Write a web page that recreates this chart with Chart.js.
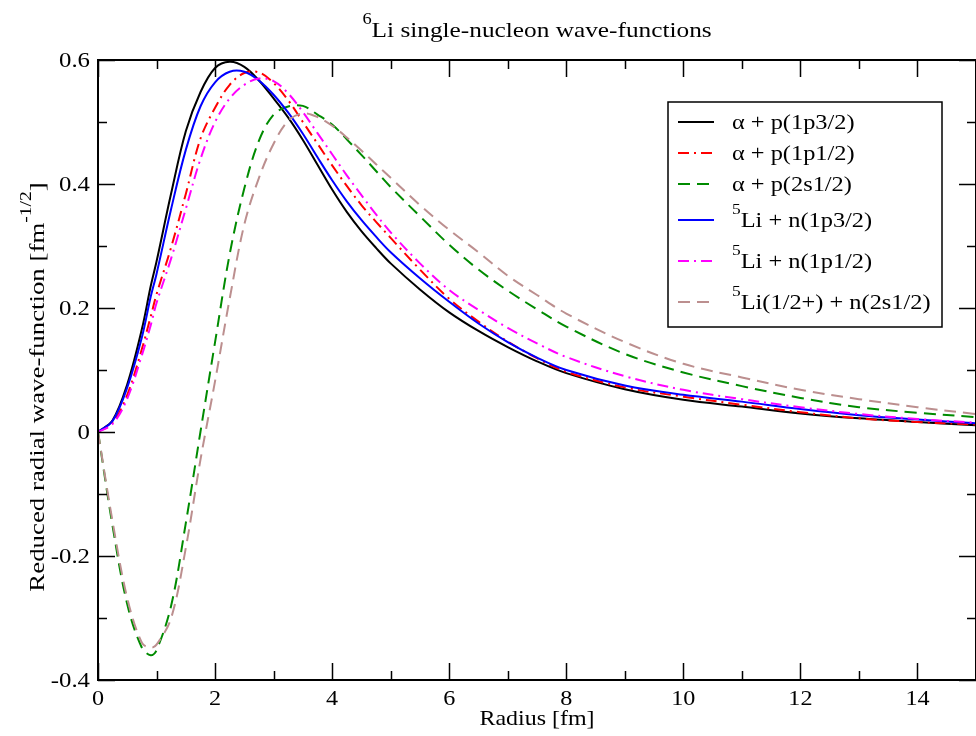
<!DOCTYPE html>
<html>
<head>
<meta charset="utf-8">
<title>6Li single-nucleon wave-functions</title>
<script src="https://cdn.jsdelivr.net/npm/chart.js@4.4.0/dist/chart.umd.min.js"></script>
<style>
    html, body { margin: 0; padding: 0; background: #fff; }
</style>
</head>
<body>
<canvas id="waveChart" width="976" height="736"></canvas>
<script>
// radius grid [fm]
const radius = [0, 0.25, 0.5, 0.75, 0.9, 1, 1.25, 1.5, 1.75, 2, 2.25, 2.5, 2.75, 3, 3.25, 3.5, 3.75, 4,
                4.25, 4.5, 4.75, 5, 5.5, 6, 6.5, 7, 7.5, 8, 9, 10, 11, 12, 13, 14, 15];

// reduced radial wave-functions
const alphaP_1p32 = [0, 0.019, 0.077, 0.166, 0.235, 0.275, 0.385, 0.485, 0.548, 0.587, 0.597, 0.589, 0.567, 0.538, 0.507, 0.471, 0.431, 0.391,
                     0.355, 0.324, 0.297, 0.272, 0.230, 0.193, 0.163, 0.137, 0.114, 0.095, 0.069, 0.052, 0.041, 0.030, 0.022, 0.016, 0.011];
const alphaP_1p12 = [0, 0.015, 0.060, 0.134, 0.186, 0.222, 0.298, 0.384, 0.473, 0.523, 0.560, 0.579, 0.580, 0.563, 0.535, 0.500, 0.465, 0.430,
                     0.397, 0.366, 0.339, 0.313, 0.262, 0.215, 0.178, 0.146, 0.119, 0.097, 0.072, 0.057, 0.044, 0.032, 0.022, 0.016, 0.012];
const alphaP_2s12 = [0, -0.152, -0.278, -0.348, -0.360, -0.352, -0.280, -0.147, 0.000, 0.145, 0.287, 0.393, 0.470, 0.512, 0.525, 0.526, 0.512, 0.496,
                     0.472, 0.447, 0.421, 0.395, 0.348, 0.302, 0.262, 0.228, 0.198, 0.170, 0.126, 0.096, 0.074, 0.055, 0.040, 0.031, 0.024];
const li5N_1p32    = [0, 0.018, 0.072, 0.153, 0.218, 0.255, 0.360, 0.455, 0.525, 0.564, 0.581, 0.581, 0.567, 0.544, 0.515, 0.481, 0.443, 0.406,
                     0.372, 0.342, 0.315, 0.290, 0.248, 0.210, 0.175, 0.145, 0.120, 0.100, 0.075, 0.060, 0.049, 0.037, 0.027, 0.020, 0.014];
const li5N_1p12    = [0, 0.013, 0.054, 0.124, 0.172, 0.208, 0.280, 0.360, 0.440, 0.500, 0.538, 0.560, 0.570, 0.566, 0.546, 0.516, 0.482, 0.448,
                     0.414, 0.382, 0.351, 0.322, 0.272, 0.229, 0.197, 0.168, 0.143, 0.121, 0.090, 0.068, 0.053, 0.040, 0.029, 0.021, 0.015];
const li5N_2s12    = [0, -0.145, -0.268, -0.340, -0.348, -0.343, -0.300, -0.187, -0.045, 0.082, 0.215, 0.335, 0.410, 0.465, 0.502, 0.514, 0.508, 0.494,
                     0.475, 0.454, 0.432, 0.410, 0.366, 0.326, 0.290, 0.252, 0.221, 0.191, 0.145, 0.110, 0.088, 0.068, 0.053, 0.040, 0.029];

// labels (^{..} = superscript)
const seriesLabels = ['α + p(1p3/2)', 'α + p(1p1/2)', 'α + p(2s1/2)',
                      '^{5}Li + n(1p3/2)', '^{5}Li + n(1p1/2)', '^{5}Li(1/2+) + n(2s1/2)'];
const chartTitle = '^{6}Li single-nucleon wave-functions';
const xTitle = 'Radius [fm]';
const yTitle = 'Reduced radial wave-function [fm^{-1/2}]';

// ticks
const xMajor = [0, 2, 4, 6, 8, 10, 12, 14];
const xMinor = [1, 3, 5, 7, 9, 11, 13, 15];
const yMajor = [-0.4, -0.2, 0, 0.2, 0.4, 0.6];
const yMinor = [-0.3, -0.1, 0.1, 0.3, 0.5];

const FONT = '"Liberation Serif", "Times New Roman", serif';

function toPoints(arr){
    return arr.map((v, i) => ({x: radius[i], y: v}));
}

function parseRich(str){
    const out = [];
    const re = /\^\{([^}]*)\}/g;
    let last = 0, m;
    while((m = re.exec(str))){
        if(m.index > last) out.push({sup: false, t: str.slice(last, m.index)});
        out.push({sup: true, t: m[1]});
        last = re.lastIndex;
    }
    if(last < str.length) out.push({sup: false, t: str.slice(last)});
    return out;
}

// text with superscripts, stretched horizontally by sx (grace glyphs run wider)
function drawText(ctx, str, x, y, size, align, sx){
    const parts = parseRich(str);
    const supSize = Math.round(size * 0.72);
    let w = 0;
    parts.forEach(p => {
        ctx.font = (p.sup ? supSize : size) + 'px ' + FONT;
        p.w = ctx.measureText(p.t).width;
        w += p.w;
    });
    ctx.save();
    ctx.translate(x, y);
    ctx.scale(sx, 1);
    let cx = align === 'center' ? -w / 2 : (align === 'right' ? -w : 0);
    ctx.textAlign = 'left';
    ctx.textBaseline = 'alphabetic';
    ctx.fillStyle = '#000';
    parts.forEach(p => {
        ctx.font = (p.sup ? supSize : size) + 'px ' + FONT;
        ctx.fillText(p.t, cx, p.sup ? -size * 0.6 : 0);
        cx += p.w;
    });
    ctx.restore();
}

const gracePlugin = {
    id: 'grace',
    afterDraw(chart){
        const ctx = chart.ctx;
        const a = chart.chartArea;
        const xs = chart.scales.x, ys = chart.scales.y;
        ctx.save();

        // frame
        ctx.strokeStyle = '#000';
        ctx.lineWidth = 2;
        ctx.setLineDash([]);
        ctx.strokeRect(a.left, a.top, a.right - a.left, a.bottom - a.top);

        // inward ticks on all sides
        ctx.lineWidth = 1.5;
        ctx.beginPath();
        const tickX = (vals, len) => vals.forEach(v => {
            const px = Math.round(xs.getPixelForValue(v)) + 0.5;
            ctx.moveTo(px, a.bottom); ctx.lineTo(px, a.bottom - len);
            ctx.moveTo(px, a.top); ctx.lineTo(px, a.top + len);
        });
        const tickY = (vals, len) => vals.forEach(v => {
            const py = Math.round(ys.getPixelForValue(v)) + 0.5;
            ctx.moveTo(a.left, py); ctx.lineTo(a.left + len, py);
            ctx.moveTo(a.right, py); ctx.lineTo(a.right - len, py);
        });
        tickX(xMajor, 17); tickX(xMinor, 9);
        tickY(yMajor, 17); tickY(yMinor, 9);
        ctx.stroke();

        // tick labels
        xMajor.forEach(v => drawText(ctx, String(v), xs.getPixelForValue(v), a.bottom + 25, 21, 'center', 1.15));
        yMajor.forEach(v => drawText(ctx, String(v), a.left - 8, ys.getPixelForValue(v) + 7, 21, 'right', 1.18));

        // titles
        drawText(ctx, chartTitle, (a.left + a.right) / 2, 37, 22, 'center', 1.15);
        drawText(ctx, xTitle, (a.left + a.right) / 2, 725, 22, 'center', 1.09);
        ctx.save();
        ctx.translate(44, 387);
        ctx.rotate(-Math.PI / 2);
        drawText(ctx, yTitle, 0, 0, 22, 'center', 1.22);
        ctx.restore();

        // legend box
        const bx = 668, by = 102, bw = 274, bh = 225;
        ctx.fillStyle = '#fff';
        ctx.fillRect(bx, by, bw, bh);
        ctx.strokeStyle = '#000';
        ctx.lineWidth = 1.5;
        ctx.strokeRect(bx, by, bw, bh);
        let rowY = 122, prevSup = false;
        chart.data.datasets.forEach((ds, i) => {
            const hasSup = ds.label.indexOf('^{') >= 0;
            if(i > 0) rowY += hasSup ? (prevSup ? 41 : 36) : 31;
            prevSup = hasSup;
            ctx.strokeStyle = ds.borderColor;
            ctx.lineWidth = ds.borderWidth;
            ctx.setLineDash(ds.borderDash || []);
            ctx.beginPath();
            ctx.moveTo(678, rowY);
            ctx.lineTo(714, rowY);
            ctx.stroke();
            ctx.setLineDash([]);
            drawText(ctx, ds.label, 732, rowY + 7, 21, 'left', 1.16);
        });
        ctx.restore();
    }
};

const colors = ['#000000', '#ff0000', '#008b00', '#0000ff', '#ff00ff', '#bc8f8f'];
const dashes = [[], [11, 5, 2, 5], [12, 7], [], [11, 5, 2, 5], [12, 7]];
const seriesData = [alphaP_1p32, alphaP_1p12, alphaP_2s12, li5N_1p32, li5N_1p12, li5N_2s12];

const waveCtx = document.getElementById('waveChart').getContext('2d');
const waveChart = new Chart(waveCtx, {
    type: 'line',
    data: {
        datasets: seriesData.map((arr, i) => ({
            label: seriesLabels[i],
            data: toPoints(arr),
            borderColor: colors[i],
            borderWidth: 2,
            borderDash: dashes[i],
            pointRadius: 0,
            fill: false,
            tension: 0.35,
            order: seriesData.length - i
        }))
    },
    options: {
        responsive: false,
        animation: false,
        devicePixelRatio: 1,
        layout: { padding: { top: 60, right: 0, bottom: 0, left: 0 } },
        plugins: {
            legend: { display: false },
            title: { display: false },
            tooltip: { enabled: false }
        },
        scales: {
            x: {
                type: 'linear',
                min: 0,
                max: 15,
                grid: { display: false, drawTicks: false },
                border: { display: false },
                ticks: { display: false },
                afterFit: (s) => { s.height = 56; }
            },
            y: {
                type: 'linear',
                min: -0.4,
                max: 0.6,
                grid: { display: false, drawTicks: false },
                border: { display: false },
                ticks: { display: false },
                afterFit: (s) => { s.width = 98; }
            }
        }
    },
    plugins: [gracePlugin]
});
</script>
</body>
</html>
